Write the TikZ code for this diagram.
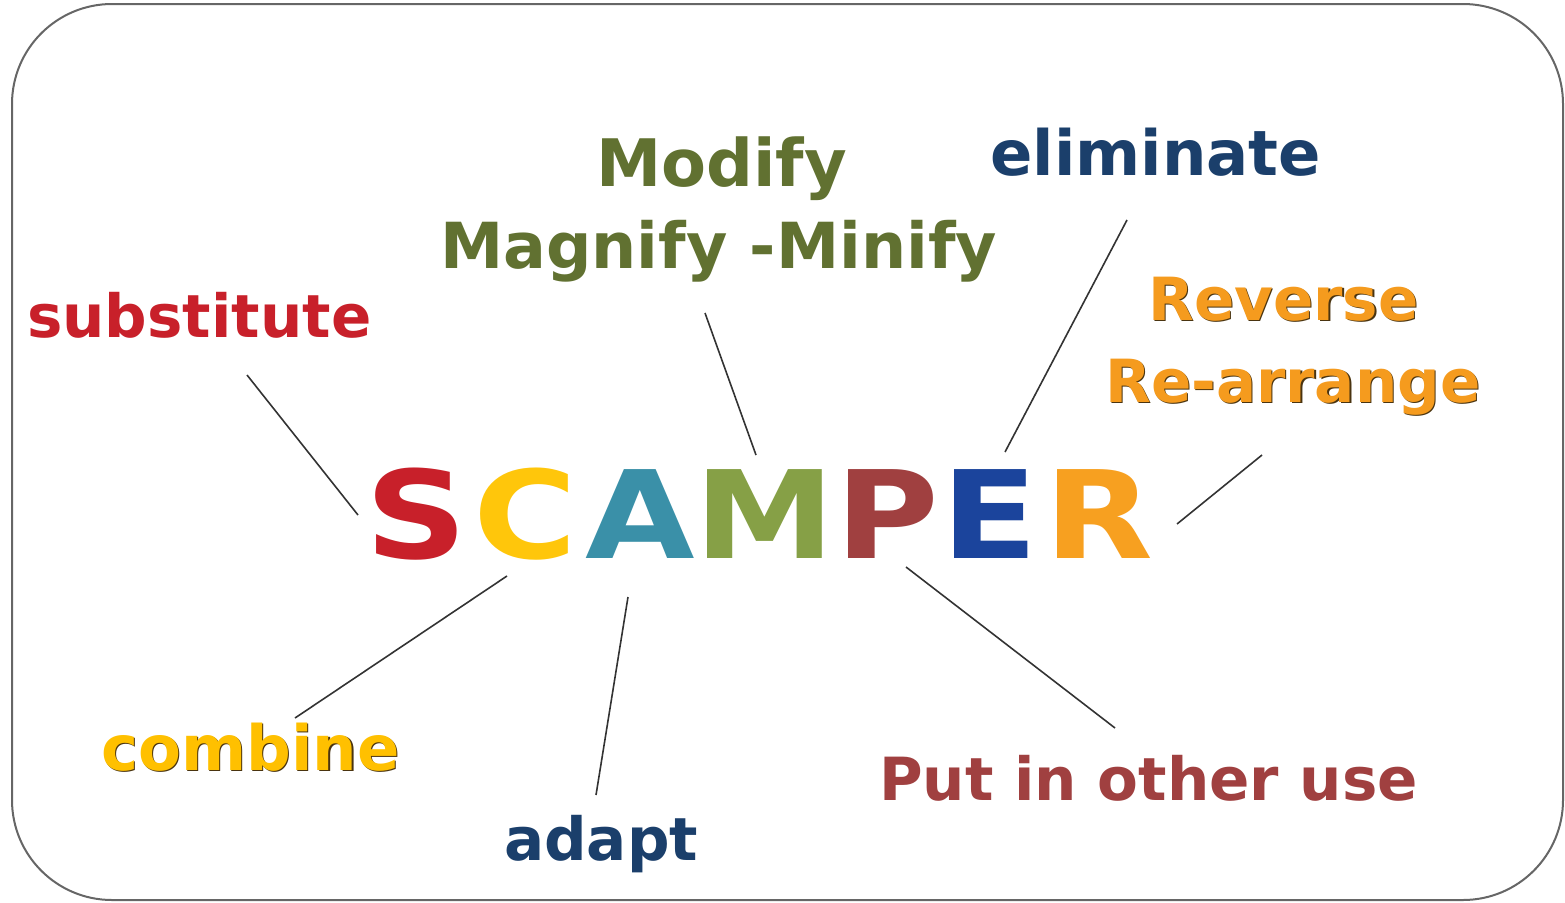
\documentclass[tikz,border=0pt]{standalone}
\usepackage{fontspec}
\setmainfont{DejaVu Sans}
\definecolor{cS}{HTML}{C8202A}
\definecolor{cC}{HTML}{FFC60B}
\definecolor{cA}{HTML}{3A90A8}
\definecolor{cM}{HTML}{86A046}
\definecolor{cP}{HTML}{A04040}
\definecolor{cE}{HTML}{1B449C}
\definecolor{cR}{HTML}{F7A020}
\definecolor{olive}{HTML}{617131}
\definecolor{navy}{HTML}{1B3F6B}
\definecolor{subred}{HTML}{C8202A}
\definecolor{putred}{HTML}{A04040}
\definecolor{orng}{HTML}{F59B1E}
\definecolor{yell}{HTML}{FFC000}
\definecolor{darkedge}{HTML}{4A3410}
\newcommand{\widel}[1]{\scalebox{1.16}[1]{#1}}
\tikzset{
  big/.style={inner sep=0pt, anchor=base, font=\bfseries\fontsize{122}{130}\selectfont},
  lbl/.style={inner sep=0pt, anchor=base west, font=\bfseries\fontsize{59.5}{70}\selectfont},
  conn/.style={draw=black!80, line width=1.6pt},
  frame/.style={draw=black!60, line width=2pt, rounded corners=100pt}
}
\begin{document}
\begin{tikzpicture}[x=1pt,y=-1pt]
\useasboundingbox (0,0) rectangle (1565,902);
\draw[frame] (12,4) rectangle (1563,900);

% SCAMPER letters
\node[big, text=cS] (S) at (416,558) {\widel{S}};
\node[big, text=cC] (C) at (525,558) {\widel{C}};
\node[big, text=cA] (A) at (640,558) {\widel{A}};
\node[big, text=cM] (M) at (765,558) {\widel{M}};
\node[big, text=cP] (P) at (887,558) {\widel{P}};
\node[big, text=cE] (E) at (990,558) {\widel{E}};
\node[big, text=cR] (R) at (1099,558) {\widel{R}};

% labels
\node[lbl, text=subred] (sub) at (27,337) {substitute};
\node[lbl, text=olive, font=\bfseries\fontsize{65.5}{70}\selectfont] (mod) at (596,186) {Modify};
\node[lbl, text=olive, font=\bfseries\fontsize{63.5}{70}\selectfont] (mag) at (440,268) {Magnify -Minify};
\node[lbl, text=navy, font=\bfseries\fontsize{62.5}{70}\selectfont] (eli) at (990,175) {eliminate};
\node[lbl, text=darkedge] (revsh) at (1149.5,321.5) {Reverse};
\node[lbl, text=orng] (rev) at (1148,320) {Reverse};
\node[lbl, text=darkedge] (rearsh) at (1106.5,403.5) {Re-arrange};
\node[lbl, text=orng] (rear) at (1105,402) {Re-arrange};
\node[lbl, text=darkedge, font=\bfseries\fontsize{62.5}{70}\selectfont] (combsh) at (102.5,771.5) {combine};
\node[lbl, text=yell, font=\bfseries\fontsize{62.5}{70}\selectfont] (comb) at (101,770) {combine};
\node[lbl, text=navy] (ada) at (504,860) {adapt};
\node[lbl, text=putred] (put) at (879,800) {Put in other use};

% connector end points
\coordinate (s1) at (247,375);  \coordinate (s2) at (358,515);
\coordinate (m1) at (705,313);  \coordinate (m2) at (756,455);
\coordinate (e1) at (1127,220); \coordinate (e2) at (1005,452);
\coordinate (r1) at (1262,455); \coordinate (r2) at (1177,524);
\coordinate (c1) at (507,576);  \coordinate (c2) at (295,718);
\coordinate (a1) at (628,597);  \coordinate (a2) at (596,795);
\coordinate (p1) at (906,567);  \coordinate (p2) at (1115,728);

\draw[conn] (s1) -- (s2);
\draw[conn] (m1) -- (m2);
\draw[conn] (e1) -- (e2);
\draw[conn] (r1) -- (r2);
\draw[conn] (c1) -- (c2);
\draw[conn] (a1) -- (a2);
\draw[conn] (p1) -- (p2);
\end{tikzpicture}
\end{document}
